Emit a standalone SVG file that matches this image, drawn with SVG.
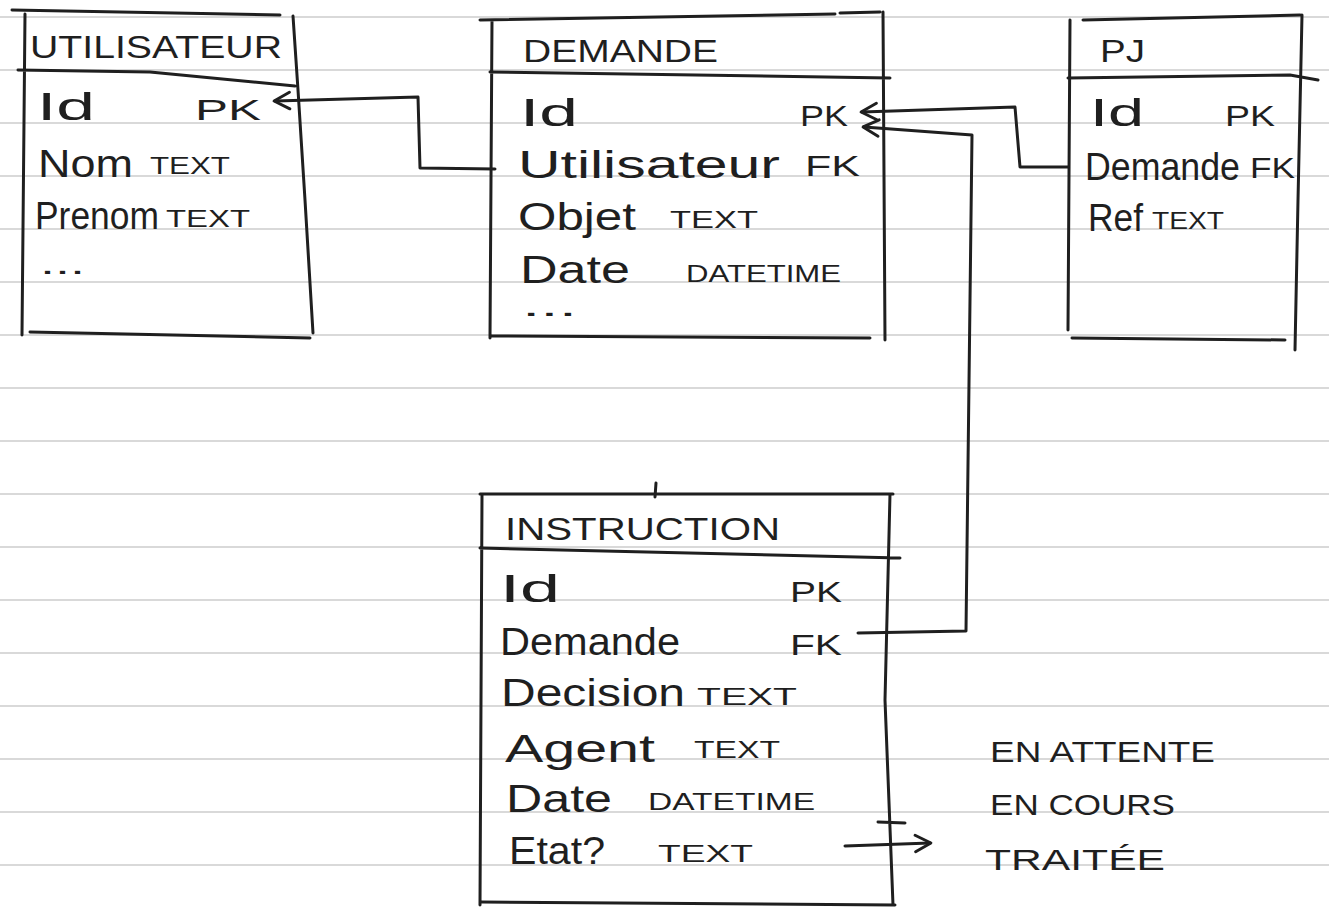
<svg xmlns="http://www.w3.org/2000/svg" width="1329" height="912" viewBox="0 0 1329 912">
<defs>
<style>
.rule{stroke:#cdcdcd;stroke-width:1.5}
.ink{fill:none;stroke:#1f1f1f;stroke-width:3;stroke-linecap:round;stroke-linejoin:round}
text{font-family:"Liberation Sans",Arial,sans-serif;fill:#1f1f1f}
.t{font-size:32px}
.f{font-size:38px}
.k{font-size:30px}
.s{font-size:24px}
</style>
<marker id="ah" viewBox="0 0 12 12" refX="10" refY="6" markerWidth="22" markerHeight="22" markerUnits="userSpaceOnUse" orient="auto">
<path d="M2,1.5 L10.5,6 L2,10.5" fill="none" stroke="#1f1f1f" stroke-width="1.6" stroke-linecap="round" stroke-linejoin="round"/>
</marker>
</defs>
<rect width="1329" height="912" fill="#ffffff"/>
<g id="paper">
<line class="rule" x1="0" y1="17" x2="1329" y2="17"/>
<line class="rule" x1="0" y1="70" x2="1329" y2="70"/>
<line class="rule" x1="0" y1="123" x2="1329" y2="123"/>
<line class="rule" x1="0" y1="176" x2="1329" y2="176"/>
<line class="rule" x1="0" y1="229" x2="1329" y2="229"/>
<line class="rule" x1="0" y1="282" x2="1329" y2="282"/>
<line class="rule" x1="0" y1="335" x2="1329" y2="335"/>
<line class="rule" x1="0" y1="388" x2="1329" y2="388"/>
<line class="rule" x1="0" y1="441" x2="1329" y2="441"/>
<line class="rule" x1="0" y1="494" x2="1329" y2="494"/>
<line class="rule" x1="0" y1="547" x2="1329" y2="547"/>
<line class="rule" x1="0" y1="600" x2="1329" y2="600"/>
<line class="rule" x1="0" y1="653" x2="1329" y2="653"/>
<line class="rule" x1="0" y1="706" x2="1329" y2="706"/>
<line class="rule" x1="0" y1="759" x2="1329" y2="759"/>
<line class="rule" x1="0" y1="812" x2="1329" y2="812"/>
<line class="rule" x1="0" y1="865" x2="1329" y2="865"/>
</g>
<g id="utilisateur">
<path class="ink" d="M12,10 L280,15 M293,16 L298,90 L305,200 L313,333 M25,14 L22,335 M30,332 L310,338 M18,70 L150,72 L295,86"/>
<text class="t" x="30" y="58" textLength="252" lengthAdjust="spacingAndGlyphs">UTILISATEUR</text>
<text class="f" x="37" y="120" textLength="58" lengthAdjust="spacingAndGlyphs">Id</text>
<text class="k" x="195" y="120" textLength="66" lengthAdjust="spacingAndGlyphs">PK</text>
<text class="f" x="38" y="177" textLength="95" lengthAdjust="spacingAndGlyphs">Nom</text>
<text class="s" x="150" y="174" textLength="80" lengthAdjust="spacingAndGlyphs">TEXT</text>
<text class="f" x="35" y="229" textLength="124" lengthAdjust="spacingAndGlyphs">Prenom</text>
<text class="s" x="166" y="227" textLength="84" lengthAdjust="spacingAndGlyphs">TEXT</text>
<text class="k" x="40" y="274" textLength="45" lengthAdjust="spacingAndGlyphs">...</text>
</g>
<g id="demande">
<path class="ink" d="M480,20 L835,14 M840,13 L880,12 M883,12 L885,340 M492,20 L490,338 M492,336 L870,338 M490,72 L890,78"/>
<text class="t" x="523" y="62" textLength="195" lengthAdjust="spacingAndGlyphs">DEMANDE</text>
<text class="f" x="520" y="126" textLength="58" lengthAdjust="spacingAndGlyphs">Id</text>
<text class="k" x="800" y="126" textLength="48" lengthAdjust="spacingAndGlyphs">PK</text>
<text class="f" x="518" y="178" textLength="262" lengthAdjust="spacingAndGlyphs">Utilisateur</text>
<text class="k" x="805" y="176" textLength="55" lengthAdjust="spacingAndGlyphs">FK</text>
<text class="f" x="518" y="230" textLength="118" lengthAdjust="spacingAndGlyphs">Objet</text>
<text class="s" x="670" y="228" textLength="88" lengthAdjust="spacingAndGlyphs">TEXT</text>
<text class="f" x="520" y="283" textLength="110" lengthAdjust="spacingAndGlyphs">Date</text>
<text class="s" x="686" y="282" textLength="155" lengthAdjust="spacingAndGlyphs">DATETIME</text>
<text class="k" x="522" y="316" textLength="55" lengthAdjust="spacingAndGlyphs">...</text>
</g>
<g id="pj">
<path class="ink" d="M1083,20 L1300,15 M1302,15 L1298,200 L1295,350 M1070,20 L1068,330 M1072,338 L1285,340 M1068,78 L1290,75 L1318,80"/>
<text class="t" x="1100" y="62" textLength="45" lengthAdjust="spacingAndGlyphs">PJ</text>
<text class="f" x="1090" y="126" textLength="54" lengthAdjust="spacingAndGlyphs">Id</text>
<text class="k" x="1225" y="126" textLength="50" lengthAdjust="spacingAndGlyphs">PK</text>
<text class="f" x="1085" y="180" textLength="155" lengthAdjust="spacingAndGlyphs">Demande</text>
<text class="k" x="1250" y="178" textLength="45" lengthAdjust="spacingAndGlyphs">FK</text>
<text class="f" x="1088" y="231" textLength="55" lengthAdjust="spacingAndGlyphs">Ref</text>
<text class="s" x="1152" y="229" textLength="72" lengthAdjust="spacingAndGlyphs">TEXT</text>
</g>
<g id="instruction">
<path class="ink" d="M480,494 L893,494 M890,494 L885,700 L893,905 M482,495 L480,905 M482,902 L895,905 M480,548 L900,558 M656,483 L655,497 M878,822 L905,823"/>
<text class="t" x="505" y="540" textLength="275" lengthAdjust="spacingAndGlyphs">INSTRUCTION</text>
<text class="f" x="500" y="602" textLength="60" lengthAdjust="spacingAndGlyphs">Id</text>
<text class="k" x="790" y="602" textLength="52" lengthAdjust="spacingAndGlyphs">PK</text>
<text class="f" x="500" y="655" textLength="180" lengthAdjust="spacingAndGlyphs">Demande</text>
<text class="k" x="790" y="655" textLength="52" lengthAdjust="spacingAndGlyphs">FK</text>
<text class="f" x="501" y="706" textLength="184" lengthAdjust="spacingAndGlyphs">Decision</text>
<text class="s" x="697" y="705" textLength="100" lengthAdjust="spacingAndGlyphs">TEXT</text>
<text class="f" x="505" y="762" textLength="150" lengthAdjust="spacingAndGlyphs">Agent</text>
<text class="s" x="694" y="758" textLength="86" lengthAdjust="spacingAndGlyphs">TEXT</text>
<text class="f" x="506" y="812" textLength="106" lengthAdjust="spacingAndGlyphs">Date</text>
<text class="s" x="648" y="810" textLength="167" lengthAdjust="spacingAndGlyphs">DATETIME</text>
<text class="f" x="509" y="864" textLength="96" lengthAdjust="spacingAndGlyphs">Etat?</text>
<text class="s" x="658" y="862" textLength="95" lengthAdjust="spacingAndGlyphs">TEXT</text>
</g>
<g id="etat-values">
<text class="k" x="990" y="762" textLength="225" lengthAdjust="spacingAndGlyphs">EN ATTENTE</text>
<text class="k" x="990" y="815" textLength="185" lengthAdjust="spacingAndGlyphs">EN COURS</text>
<text class="k" x="985" y="870" textLength="180" lengthAdjust="spacingAndGlyphs">TRAITÉE</text>
</g>
<g id="connectors">
<path class="ink" d="M495,169 L420,168 L418,97 L275,101" marker-end="url(#ah)"/>
<path class="ink" d="M1068,167 L1020,167 L1015,107 L862,112" marker-end="url(#ah)"/>
<path class="ink" d="M858,633 L966,631 L972,135 L864,127" marker-end="url(#ah)"/>
<path class="ink" d="M845,846 L930,843" marker-end="url(#ah)"/>
</g>
</svg>
